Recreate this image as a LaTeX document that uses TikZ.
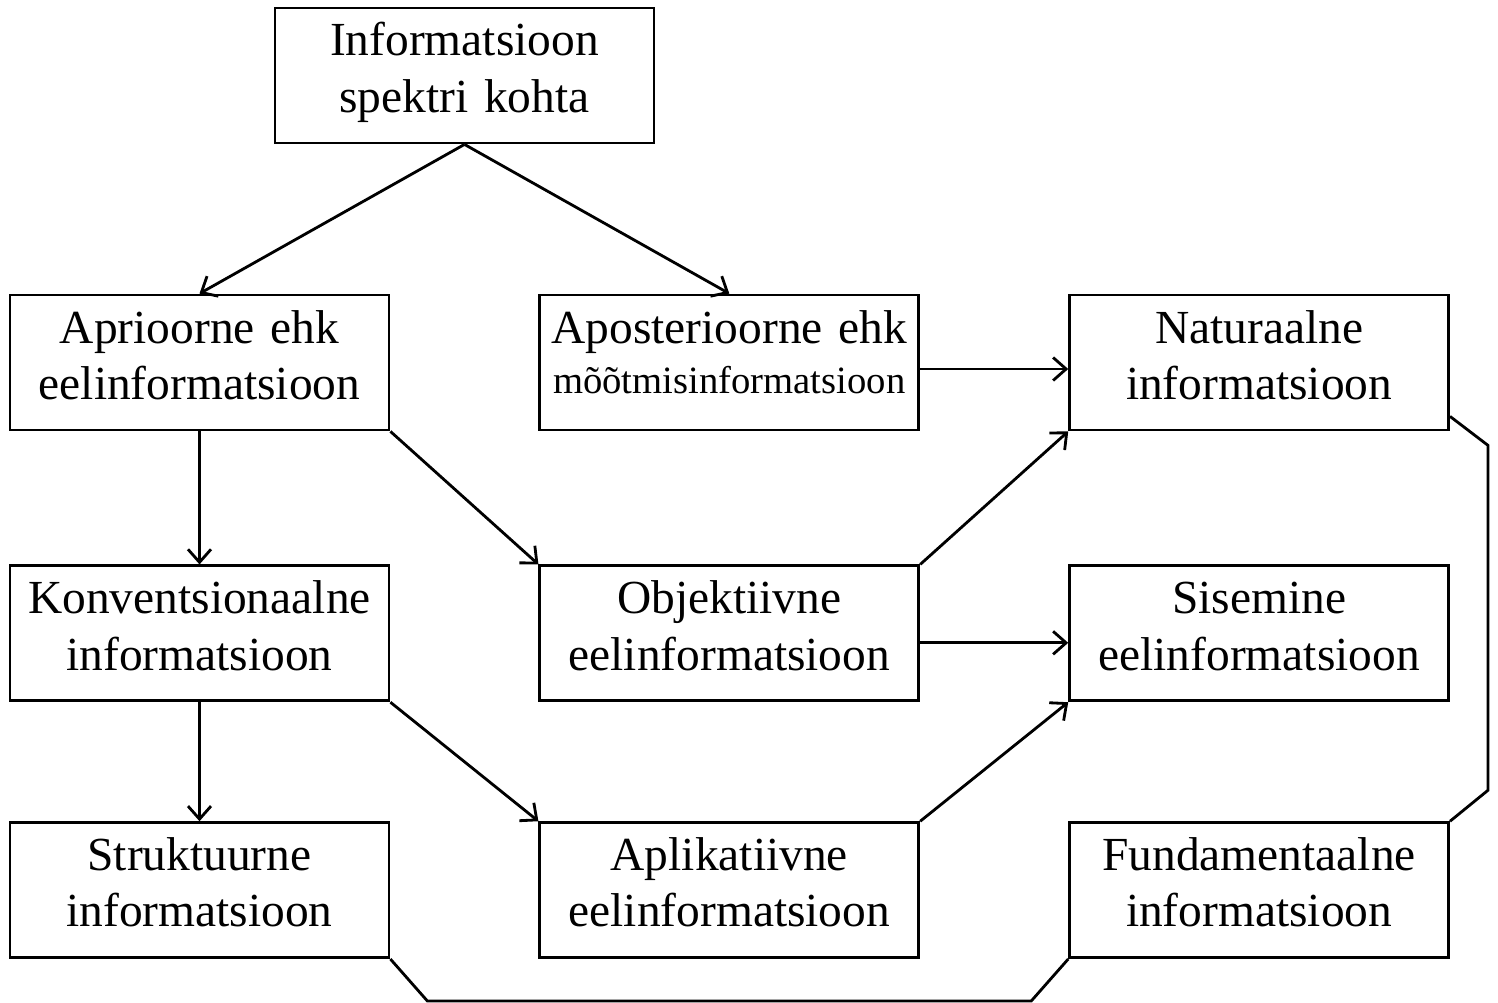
\documentclass[tikz,border=0pt]{standalone}
\usepackage{fontspec}
\setmainfont{Liberation Serif}
\usetikzlibrary{arrows.meta,positioning,calc}

\begin{document}
\begin{tikzpicture}[
      box/.style={draw, align=center, font=\fontsize{27}{32}\selectfont,
                  minimum height=2.7cm, minimum width=7.58cm, text width=7.4cm,
                  text height=0pt, text depth=0.78cm, inner sep=0pt, line width=1.6pt},
      arr/.style={-{Straight Barb[length=2.6mm,width=4.6mm]}, line width=1.6pt},
      lnk/.style={line width=1.6pt},
      node distance=2.66cm and 2.96cm]
    \useasboundingbox (0,0) rectangle (29.96,-20.06);
    \node[box] (info) at (9.29,-1.51) {Informatsioon\\spektri kohta};
    \node[box] (apr) at (3.99,-7.25) {Aprioorne ehk\\eelinformatsioon};
    \node[box, right=of apr] (apo) {Aposterioorne ehk\\[-3pt]{\fontsize{22}{27}\selectfont m\~o\~otmisinformatsioon}};
    \node[box, right=of apo] (nat) {Naturaalne\\informatsioon};
    \node[box, below=of apr] (kon) {Konventsionaalne\\informatsioon};
    \node[box, right=of kon] (obj) {Objektiivne\\eelinformatsioon};
    \node[box, right=of obj] (sis) {Sisemine\\eelinformatsioon};
    \node[box, below=2.38cm of kon] (str) {Struktuurne\\informatsioon};
    \node[box, right=of str] (apl) {Aplikatiivne\\eelinformatsioon};
    \node[box, right=of apl] (fun) {Fundamentaalne\\informatsioon};
    \draw[arr] (info.south) -- (apr.north);
    \draw[arr] (info.south) -- (apo.north);
    \draw[arr] ([yshift=-0.13cm]apo.east) -- ([yshift=-0.13cm]nat.west);
    \draw[arr] (apr) -- (kon);
    \draw[arr] (apr.south east) -- (obj.north west);
    \draw[arr] (obj.north east) -- (nat.south west);
    \draw[arr] ([yshift=-0.19cm]obj.east) -- ([yshift=-0.19cm]sis.west);
    \draw[arr] (kon) -- (str);
    \draw[arr] (kon.south east) -- (apl.north west);
    \draw[arr] (apl.north east) -- (sis.south west);
    \draw[lnk] ([yshift=0.3cm]nat.south east) -- ++(0.76,-0.58)
      -- ($(fun.north east)+(0.76,0.62)$) -- (fun.north east);
    \draw[lnk] (str.south east) -- ++(0.74,-0.84)
      -- ($(fun.south west)+(-0.74,-0.84)$) -- (fun.south west);
  \end{tikzpicture}
\end{document}
